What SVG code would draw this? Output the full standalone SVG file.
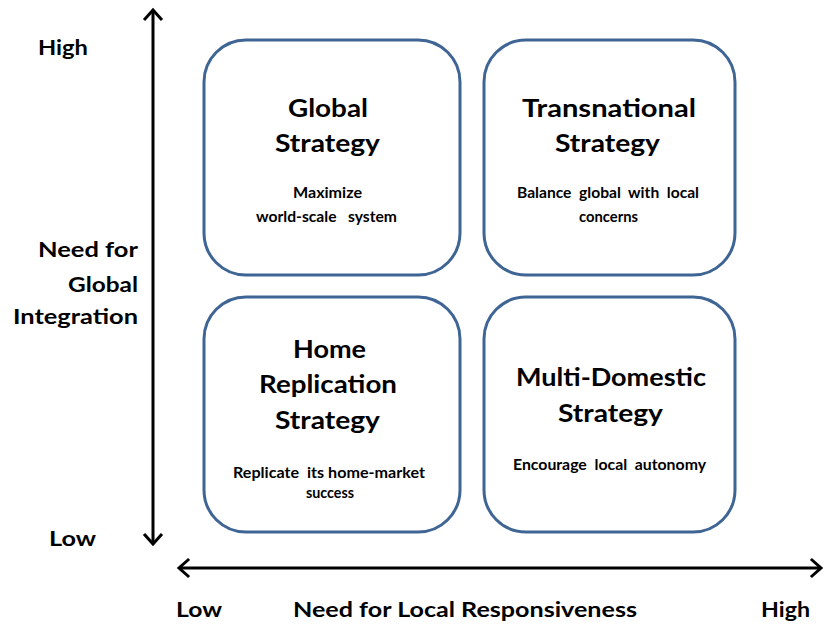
<svg xmlns="http://www.w3.org/2000/svg" width="825" height="626" viewBox="0 0 825 626">
<style>
.box{fill:#fff;stroke:#3f6595;stroke-width:3}
.t{font-family:Lato,"Liberation Sans",sans-serif;font-weight:bold;fill:#000;text-anchor:middle}
.title{font-size:25px}
.sub{font-size:15px}
.ax{font-size:21px}
.end{text-anchor:end}
.axis{stroke:#000;stroke-width:3;fill:none}
.head{stroke:#000;stroke-width:3;fill:none;stroke-linecap:square}
</style>
<rect width="825" height="626" fill="#fff"/>
<g id="connectors">
<line class="axis" x1="153" y1="10" x2="153" y2="544"/>
<polyline class="head" points="145,19 153,10 161,19"/>
<polyline class="head" points="145,535 153,544 161,535"/>
<line class="axis" x1="179" y1="568" x2="821" y2="568"/>
<polyline class="head" points="188,560 179,568 188,576"/>
<polyline class="head" points="812,560 821,568 812,576"/>
</g>
<g id="axis-labels">
<text class="t ax" x="63" y="55" textLength="50" lengthAdjust="spacingAndGlyphs">High</text>
<text class="t ax" x="72.5" y="546" textLength="47" lengthAdjust="spacingAndGlyphs">Low</text>
<text class="t ax end" x="138" y="257" textLength="100" lengthAdjust="spacingAndGlyphs">Need for</text>
<text class="t ax end" x="138" y="292" textLength="70" lengthAdjust="spacingAndGlyphs">Global</text>
<text class="t ax end" x="138" y="324" textLength="125" lengthAdjust="spacingAndGlyphs">Integration</text>
<text class="t ax" x="199" y="617" textLength="46" lengthAdjust="spacingAndGlyphs">Low</text>
<text class="t ax" x="465" y="617" textLength="344" lengthAdjust="spacingAndGlyphs">Need for Local Responsiveness</text>
<text class="t ax" x="785.5" y="617" textLength="49" lengthAdjust="spacingAndGlyphs">High</text>
</g>
<g id="global">
<rect class="box" x="204" y="40" width="256" height="235" rx="42"/>
<text class="t title" x="328" y="117" textLength="80" lengthAdjust="spacingAndGlyphs">Global</text>
<text class="t title" x="327.5" y="152" textLength="105" lengthAdjust="spacingAndGlyphs">Strategy</text>
<text class="t sub" x="327.5" y="198" textLength="69" lengthAdjust="spacingAndGlyphs">Maximize</text>
<text class="t sub" x="326.5" y="222" xml:space="preserve" textLength="141" lengthAdjust="spacingAndGlyphs">world-scale   system</text>
</g>
<g id="transnational">
<rect class="box" x="484" y="40" width="251" height="235" rx="42"/>
<text class="t title" x="609" y="117" textLength="174" lengthAdjust="spacingAndGlyphs">Transnational</text>
<text class="t title" x="607.5" y="152" textLength="105" lengthAdjust="spacingAndGlyphs">Strategy</text>
<text class="t sub" x="608" y="198" xml:space="preserve" textLength="182" lengthAdjust="spacingAndGlyphs">Balance  global  with  local</text>
<text class="t sub" x="608.5" y="222" textLength="59" lengthAdjust="spacingAndGlyphs">concerns</text>
</g>
<g id="home">
<rect class="box" x="204" y="297" width="256" height="235" rx="42"/>
<text class="t title" x="329.5" y="358" textLength="73" lengthAdjust="spacingAndGlyphs">Home</text>
<text class="t title" x="328" y="393" textLength="138" lengthAdjust="spacingAndGlyphs">Replication</text>
<text class="t title" x="327.5" y="429" textLength="105" lengthAdjust="spacingAndGlyphs">Strategy</text>
<text class="t sub" x="329" y="478" xml:space="preserve" textLength="192" lengthAdjust="spacingAndGlyphs">Replicate  its home-market</text>
<text class="t sub" x="330" y="498" textLength="48" lengthAdjust="spacingAndGlyphs">success</text>
</g>
<g id="multidomestic">
<rect class="box" x="484" y="297" width="251" height="235" rx="42"/>
<text class="t title" x="611" y="386" textLength="190" lengthAdjust="spacingAndGlyphs">Multi-Domestic</text>
<text class="t title" x="610.5" y="422" textLength="105" lengthAdjust="spacingAndGlyphs">Strategy</text>
<text class="t sub" x="609.5" y="470" xml:space="preserve" textLength="193" lengthAdjust="spacingAndGlyphs">Encourage  local  autonomy</text>
</g>
</svg>
